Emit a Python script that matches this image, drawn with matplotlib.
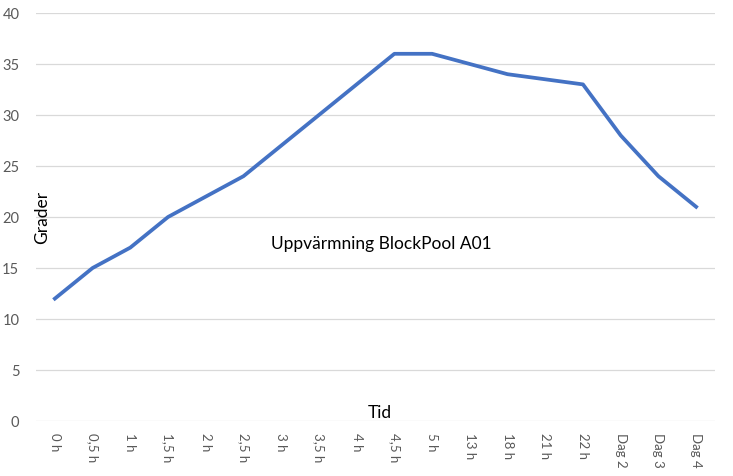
import matplotlib
matplotlib.use("Agg")
import matplotlib.pyplot as plt

plt.rcParams['font.family'] = ['Lato', 'DejaVu Sans']

tider = ["0 h", "0,5 h", "1 h", "1,5 h", "2 h", "2,5 h", "3 h", "3,5 h", "4 h",
         "4,5 h", "5 h", "13 h", "18 h", "21 h", "22 h", "Dag 2", "Dag 3", "Dag 4"]
grader = [12, 15, 17, 20, 22, 24, 27, 30, 33, 36, 36, 35, 34, 33.5, 33, 28, 24, 21]
yticks = [0, 5, 10, 15, 20, 25, 30, 35, 40]

fig = plt.figure(figsize=(7.33, 4.77), dpi=100)
ax = fig.add_axes([36 / 733, 1 - 422 / 477, (715 - 36) / 733, (422 - 14) / 477])

x = list(range(len(tider)))
ax.plot(x, grader, color="#4472C4", linewidth=2.7, solid_joinstyle="round")

ax.set_xlim(-0.5, len(tider) - 0.5)
ax.set_ylim(0, 40)
ax.set_yticks(yticks)
ax.set_xticks(x)
ax.set_xticklabels(tider, rotation=270, fontsize=9.5, color="#595959")
ax.tick_params(axis="y", labelsize=10.5, labelcolor="#595959", length=0, pad=12)
ax.tick_params(axis="x", length=0, pad=8)
ax.grid(axis="y", color="#d9d9d9", linewidth=0.9)
ax.set_axisbelow(True)
for s in ax.spines.values():
    s.set_visible(False)

ax.text(381 / 733, 1 - 244 / 477, "Uppvärmning BlockPool A01", transform=fig.transFigure,
        ha="center", va="center", fontsize=12.5)
ax.text(380 / 733, 1 - 413 / 477, "Tid", transform=fig.transFigure,
        ha="center", va="center", fontsize=12.5)
ax.text(42 / 733, 1 - 217 / 477, "Grader", transform=fig.transFigure,
        ha="center", va="center", rotation=90, fontsize=12.5)

fig.savefig("out.png", dpi=100)
